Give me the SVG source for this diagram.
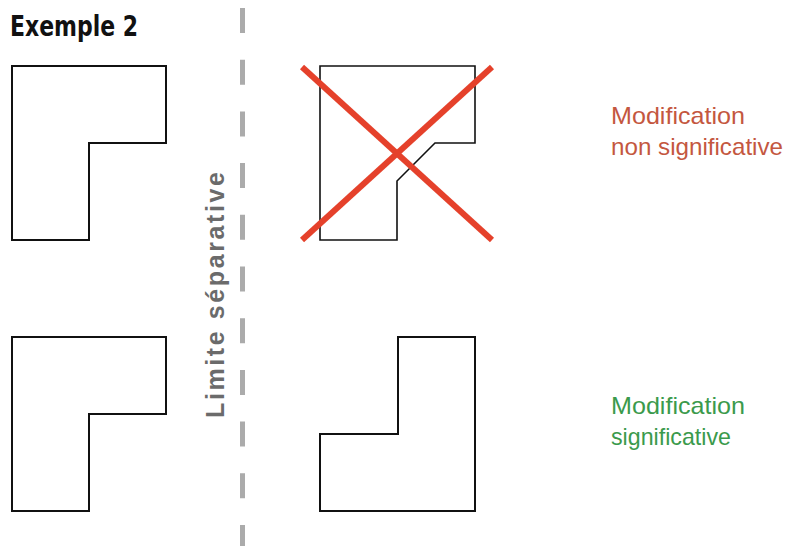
<svg xmlns="http://www.w3.org/2000/svg" width="788" height="546" viewBox="0 0 788 546">
<style>
.shape{fill:#fff;stroke:#111;stroke-width:2;stroke-linejoin:miter}
.thin{stroke-width:1.6}
.cross{stroke:#e5412b;stroke-width:6;stroke-linecap:butt}
.lbl{font-family:"Liberation Sans",Arial,sans-serif;font-size:24px}
.red{fill:#c4573f}
.green{fill:#3b9a4c}
</style>
<rect width="788" height="546" fill="#fff"/>
<text x="10" y="36" font-family="'Liberation Sans Narrow','DejaVu Sans Condensed','Liberation Sans',sans-serif" font-weight="bold" font-size="29" fill="#111" textLength="128" lengthAdjust="spacingAndGlyphs">Exemple 2</text>
<g id="limite">
<line x1="242.5" y1="8" x2="242.5" y2="546" stroke="#ababab" stroke-width="5" stroke-dasharray="25 26.7"/>
<text transform="translate(224,295) rotate(-90)" text-anchor="middle" font-family="'Liberation Sans',Arial,sans-serif" font-weight="bold" font-size="25" fill="#6b6b6b" textLength="246" lengthAdjust="spacing">Limite séparative</text>
</g>
<g id="shape-top-left"><path class="shape" d="M12,66 H166 V143 H89 V240 H12 Z"/></g>
<g id="shape-top-right">
<path class="shape thin" d="M320,66 H475 V143 H435 L397,181 V240 H320 Z"/>
<line class="cross" x1="302" y1="67" x2="492" y2="240"/>
<line class="cross" x1="492" y1="67" x2="302" y2="240"/>
</g>
<g id="shape-bottom-left"><path class="shape" d="M12,337 H166 V414 H89 V511 H12 Z"/></g>
<g id="shape-bottom-right"><path class="shape" d="M398,337 H475 V511 H320 V434 H398 Z"/></g>
<g id="label-non">
<text class="lbl red" x="611" y="124" textLength="134" lengthAdjust="spacingAndGlyphs">Modification</text>
<text class="lbl red" x="611" y="155" textLength="172" lengthAdjust="spacingAndGlyphs">non significative</text>
</g>
<g id="label-sig">
<text class="lbl green" x="611" y="414" textLength="134" lengthAdjust="spacingAndGlyphs">Modification</text>
<text class="lbl green" x="611" y="445" textLength="120" lengthAdjust="spacingAndGlyphs">significative</text>
</g>
<g id="connectors"></g>
</svg>
